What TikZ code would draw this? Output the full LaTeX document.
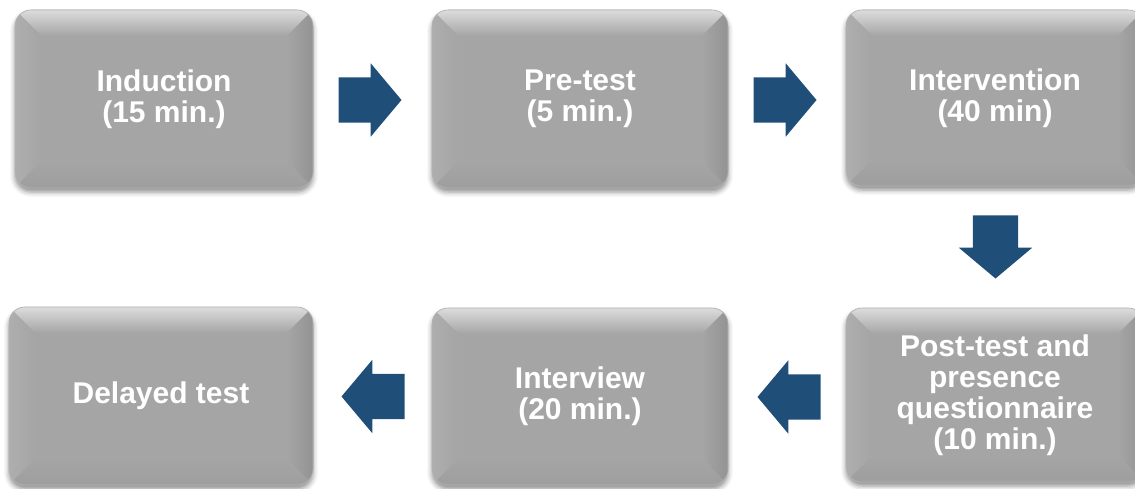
\documentclass[tikz,border=0pt]{standalone}
\usepackage{fontspec}
\setmainfont{Liberation Sans}
\usetikzlibrary{calc,shapes.arrows,shadows.blur}

\definecolor{boxgray}{HTML}{A5A5A5}
\definecolor{bevtop}{HTML}{DCDCDC}
\definecolor{bevtopmid}{HTML}{B2B2B2}
\definecolor{bevleft}{HTML}{AEAEAE}
\definecolor{bevright}{HTML}{939393}
\definecolor{bevbottom}{HTML}{9E9E9E}
\definecolor{boxedge}{HTML}{B4B4B4}
\definecolor{arrowblue}{HTML}{1F4E79}

\tikzset{
  % soft bevel: four trapezoids inside the rounded box
  bevel/.style={
    path picture={
      \begin{scope}[sharp corners]
      \fill[top color=bevtop, middle color=bevtopmid, bottom color=boxgray]
        (path picture bounding box.north west) -- (path picture bounding box.north east)
        -- ($(path picture bounding box.north east)+(-26pt,-26pt)$)
        -- ($(path picture bounding box.north west)+(26pt,-26pt)$) -- cycle;
      \fill[left color=bevleft, right color=boxgray]
        (path picture bounding box.north west)
        -- ($(path picture bounding box.north west)+(26pt,-26pt)$)
        -- ($(path picture bounding box.south west)+(26pt,26pt)$)
        -- (path picture bounding box.south west) -- cycle;
      \fill[left color=boxgray, right color=bevright]
        (path picture bounding box.north east)
        -- ($(path picture bounding box.north east)+(-26pt,-26pt)$)
        -- ($(path picture bounding box.south east)+(-26pt,26pt)$)
        -- (path picture bounding box.south east) -- cycle;
      \fill[top color=boxgray, bottom color=bevbottom]
        (path picture bounding box.south west)
        -- ($(path picture bounding box.south west)+(26pt,26pt)$)
        -- ($(path picture bounding box.south east)+(-26pt,26pt)$)
        -- (path picture bounding box.south east) -- cycle;
      \end{scope}
    }
  },
  stagebox/.style={
    rectangle, rounded corners=16pt, fill=boxgray, draw=boxedge, line width=0.6pt,
    minimum width=298pt, minimum height=178pt, inner sep=0pt, align=center, text=white,
    font=\bfseries\fontsize{30}{31}\selectfont,
    blur shadow={shadow xshift=0pt, shadow yshift=-4pt,
                 shadow blur radius=5pt, shadow opacity=45},
    bevel
  },
  flowarrow/.style={
    single arrow, fill=arrowblue, draw=none, anchor=tail,
    inner xsep=0pt, inner ysep=22.5pt,
    minimum height=63pt, minimum width=73pt,
    single arrow head extend=14pt, single arrow tip angle=100
  }
}

\begin{document}
\begin{tikzpicture}[x=1pt,y=-1pt]
  \useasboundingbox (0,0) rectangle (1135,489);
  \clip (0,0) rectangle (1135,489);

  % top row
  \node[stagebox] (b1) at (164,99) {Induction\\(15 min.)};
  \node[stagebox, minimum width=296pt] (b2) at (580,99) {Pre-test\\(5 min.)};
  \node[stagebox, minimum height=176pt] (b3) at (995,98) {Intervention\\(40 min)};

  % bottom row
  \node[stagebox, minimum height=174pt] (b4) at (995,395)
    {Post-test and\\presence\\questionnaire\\(10 min.)};
  \node[stagebox, minimum width=296pt, minimum height=177pt] (b5) at (580,396.5) {Interview\\(20 min.)};
  \node[stagebox, minimum width=304pt] (b6) at (161,396) {Delayed test};

  % block arrows between stages
  \node[flowarrow] (a1) at ($(b1.east)+(25,1)$) {};
  \node[flowarrow] (a2) at ($(b2.east)+(25,1)$) {};
  \node[flowarrow, rotate=-90] (a3) at ($(b3.south)+(0.5,29)$) {};
  \node[flowarrow, rotate=180] (a4) at ($(b4.west)+(-25,2)$) {};
  \node[flowarrow, rotate=180] (a5) at ($(b5.west)+(-27,0)$) {};
\end{tikzpicture}
\end{document}
